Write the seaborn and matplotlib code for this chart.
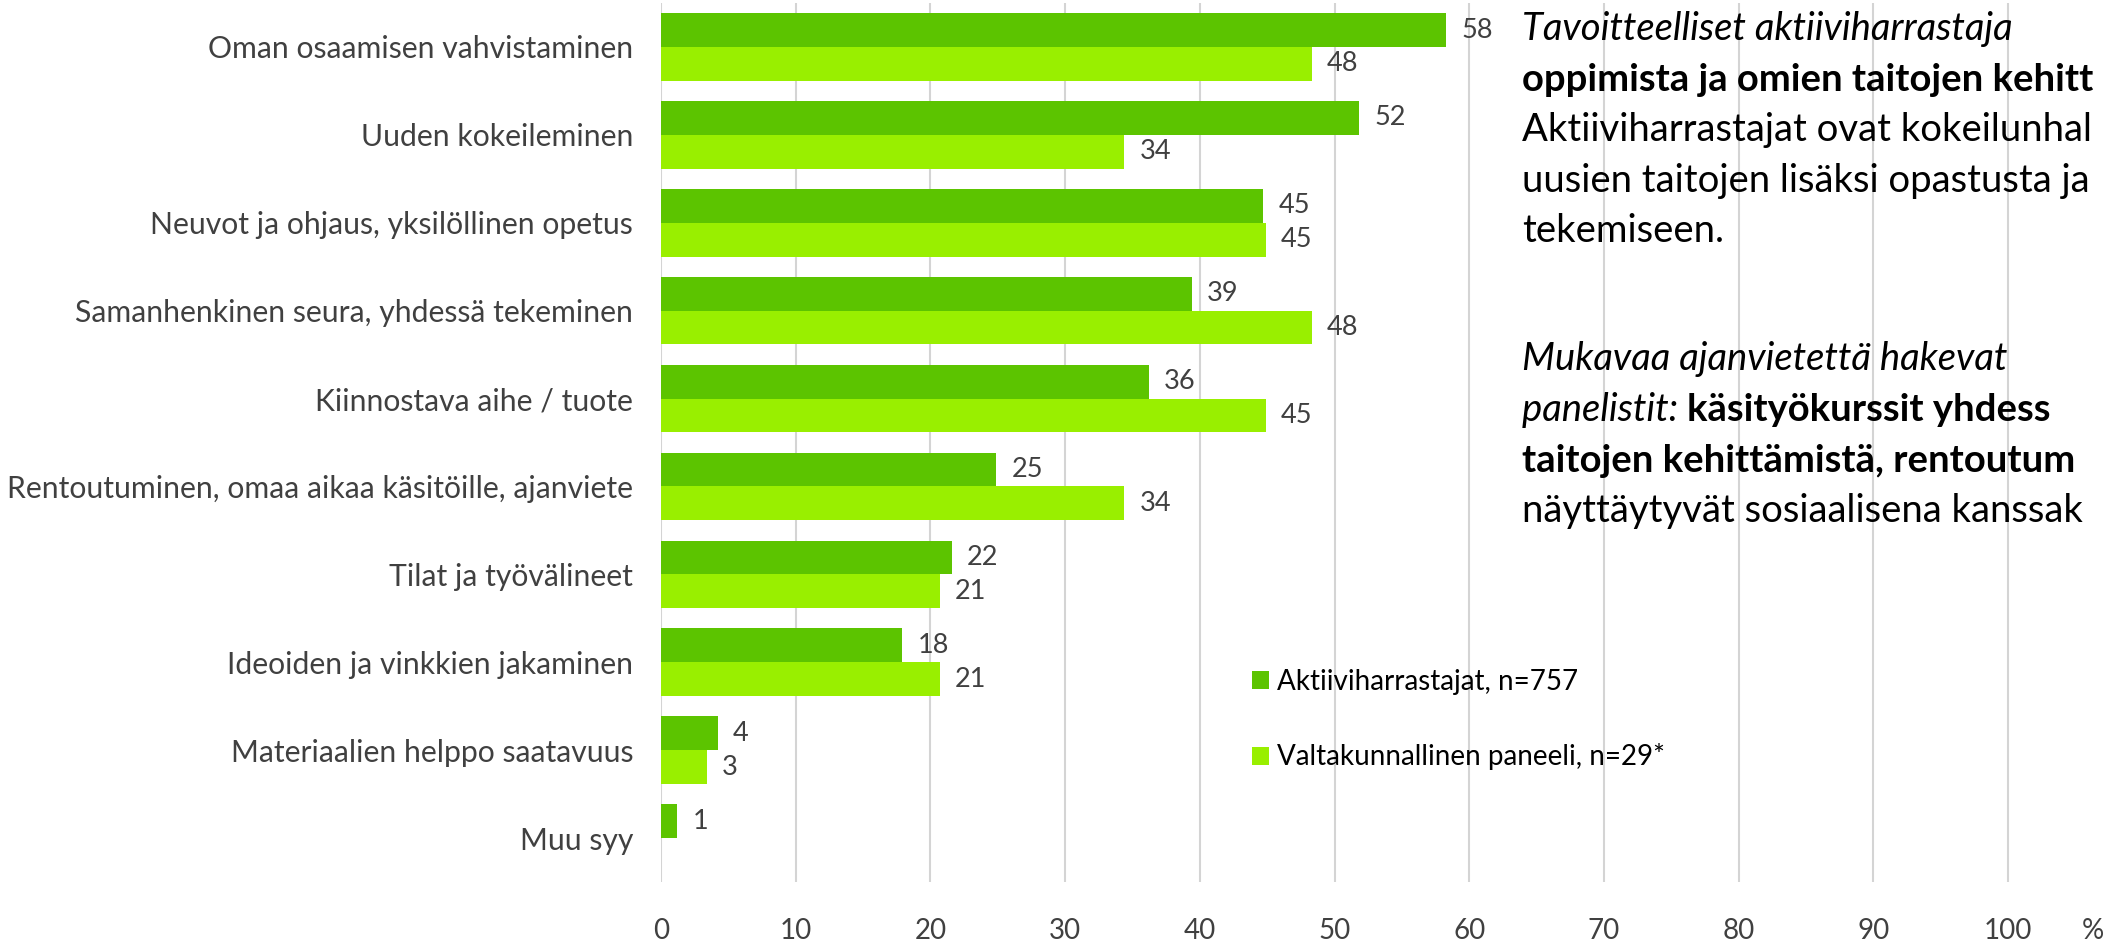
import pandas as pd
import matplotlib
matplotlib.use("Agg")
import matplotlib.pyplot as plt
import seaborn as sns

# arvot luettu kuvasta (palkin pituus), tarrat pyöristetty
categories = [
    "Oman osaamisen vahvistaminen",
    "Uuden kokeileminen",
    "Neuvot ja ohjaus, yksilöllinen opetus",
    "Samanhenkinen seura, yhdessä tekeminen",
    "Kiinnostava aihe / tuote",
    "Rentoutuminen, omaa aikaa käsitöille, ajanviete",
    "Tilat ja työvälineet",
    "Ideoiden ja vinkkien jakaminen",
    "Materiaalien helppo saatavuus",
    "Muu syy",
]
aktiivi = [58.3, 51.8, 44.7, 39.4, 36.2, 24.9, 21.6, 17.9, 4.2, 1.2]
paneeli = [48.3, 34.4, 44.9, 48.3, 44.9, 34.4, 20.7, 20.7, 3.4, 0.0]
groups = ["Aktiiviharrastajat, n=757", "Valtakunnallinen paneeli, n=29*"]
colors = ["#5CC400", "#99EF00"]
xticks = list(range(0, 101, 10))

df = pd.DataFrame({
    "syy": categories * 2,
    "osuus": aktiivi + paneeli,
    "ryhma": [groups[0]] * len(categories) + [groups[1]] * len(categories),
})

sns.set_theme(style="white")
plt.rcParams["font.family"] = ["Lato", "DejaVu Sans"]

W, H = 2112, 941
fig = plt.figure(figsize=(W / 100, H / 100), dpi=100)
x0, x100 = 661, 2008
px_per = (x100 - x0) / 100
ax = fig.add_axes([x0 / W, (H - 882) / H, (101 * px_per) / W, (882 - 3) / H])

sns.barplot(data=df, y="syy", x="osuus", hue="ryhma", orient="h",
            palette=colors, width=0.77, linewidth=0, saturation=1, ax=ax)

grey = "#404040"
for cont in ax.containers:
    labs = [f"{v:.0f}" if v > 0 else "" for v in cont.datavalues]
    ax.bar_label(cont, labels=labs, padding=11, fontsize=19.5, color=grey)

ax.set_xlim(0, 101)
ax.set_xticks(xticks)
ax.set_xlabel("")
ax.set_ylabel("")
ax.grid(axis="x", color="#D4D4D4", linewidth=1.5)
ax.grid(axis="y", visible=False)
ax.set_axisbelow(True)
for s in ax.spines.values():
    s.set_visible(False)
ax.tick_params(axis="x", length=0, pad=26, labelsize=20, labelcolor=grey)
ax.tick_params(axis="y", length=0, pad=20, labelsize=21.7, labelcolor=grey)

fig.text(2093 / W, 1 - 931 / H, "%", ha="center", va="center",
         fontsize=20, color=grey)

# legenda
handles, labels = ax.get_legend_handles_labels()
ax.legend(handles, labels, loc="upper left", frameon=False,
          bbox_to_anchor=(1238 / W, 1 - 655 / H), bbox_transform=fig.transFigure,
          fontsize=20, handlelength=0.62, handleheight=0.62, handletextpad=0.3,
          labelspacing=1.75, borderpad=0, labelcolor="black")

# oikean reunan teksti (kuvassa rivit katkeavat reunaan)
tx = 1522 / W
fs = 27.5
renderer = fig.canvas.get_renderer()


def put(y_px, parts):
    x = tx
    for txt, style, weight in parts:
        t = fig.text(x, 1 - y_px / H, txt, fontsize=fs, style=style,
                     weight=weight, color="black", va="baseline", ha="left")
        bb = t.get_window_extent(renderer)
        x = bb.x1 / W


put(40, [("Tavoitteelliset aktiiviharrastaja", "italic", "normal")])
put(91, [("oppimista ja omien taitojen kehitt", "normal", "bold")])
put(141, [("Aktiiviharrastajat ovat kokeilunhal", "normal", "normal")])
put(192, [("uusien taitojen lisäksi opastusta ja", "normal", "normal")])
put(242, [("tekemiseen.", "normal", "normal")])
put(370, [("Mukavaa ajanvietettä hakevat", "italic", "normal")])
put(421, [("panelistit: ", "italic", "normal"),
          ("käsityökurssit yhdess", "normal", "bold")])
put(472, [("taitojen kehittämistä, rentoutum", "normal", "bold")])
put(522, [("näyttäytyvät sosiaalisena kanssak", "normal", "normal")])

fig.savefig("out.png", dpi=100)
